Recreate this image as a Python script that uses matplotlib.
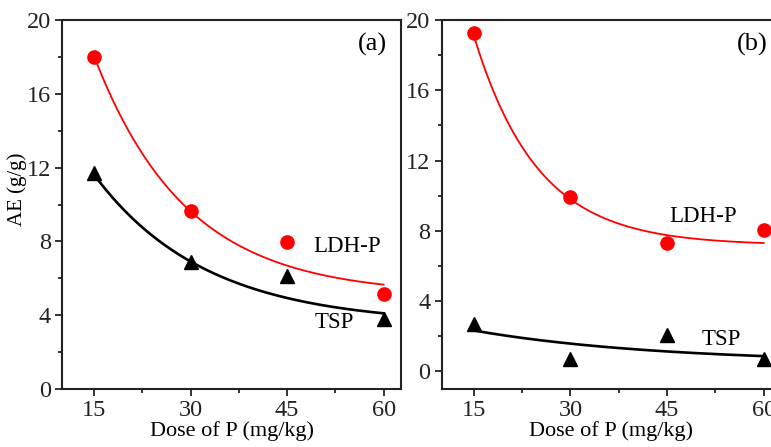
import numpy as np
import matplotlib
matplotlib.use("Agg")
import matplotlib.pyplot as plt
from matplotlib.ticker import MultipleLocator

plt.rcParams["font.family"] = ["Liberation Serif", "DejaVu Serif"]

# data
dose = [15, 30, 45, 60]
ldh_a = [18.0, 9.65, 7.97, 5.15]
tsp_a = [11.7, 6.88, 6.14, 3.80]
ldh_b = [19.28, 9.95, 7.30, 8.06]
tsp_b = [2.71, 0.72, 2.05, 0.72]

# exponential decay fit lines y = y0 + A*exp(-x/t), parameters
fit_ldh_a = (5.1, 36.9, 14.3)
fit_tsp_a = (3.5, 19.3, 17.3)
fit_ldh_b = (7.18, 54.2, 9.9)
fit_tsp_b = (0.48, 3.1, 29.0)

W, H = 771, 447


def fit_line(params, x):
    y0, a, t = params
    return y0 + a * np.exp(-x / t)


def style_axes(ax, ylim):
    ax.set_xlim(10, 62.7)
    ax.set_ylim(*ylim)
    ax.xaxis.set_major_locator(MultipleLocator(15))
    ax.xaxis.set_minor_locator(MultipleLocator(7.5))
    ax.yaxis.set_major_locator(MultipleLocator(4))
    ax.yaxis.set_minor_locator(MultipleLocator(2))
    ax.tick_params(which="both", direction="out", top=False, right=False,
                   labelsize=17.5, width=1.3, colors="#222222", pad=3)
    ax.tick_params(which="major", length=5)
    ax.tick_params(which="minor", length=3)
    for s in ax.spines.values():
        s.set_linewidth(1.5)
        s.set_color("#222222")
    ax.set_xlabel("Dose of P (mg/kg)", fontsize=16, labelpad=0)


fig = plt.figure(figsize=(W / 100, H / 100), dpi=100)
bot = (H - 389) / H
top = (H - 20) / H
ax1 = fig.add_axes([62 / W, bot, (401 - 62) / W, top - bot])
ax2 = fig.add_axes([441.7 / W, bot, (781 - 441.7) / W, top - bot])

xs = np.linspace(15, 60, 200)

for ax, ldh, tsp, fl, ft, ylim in [
    (ax1, ldh_a, tsp_a, fit_ldh_a, fit_tsp_a, (0, 20)),
    (ax2, ldh_b, tsp_b, fit_ldh_b, fit_tsp_b, (-1, 20)),
]:
    ax.plot(xs, fit_line(fl, xs), color="red", lw=1.3, zorder=2)
    ax.plot(xs, fit_line(ft, xs), color="black", lw=1.9, zorder=2)
    ax.plot(dose, ldh, "o", color="red", ms=9.5, mec="red", zorder=3)
    ax.plot(dose, tsp, "^", color="black", ms=10, zorder=3)
    style_axes(ax, ylim)

ax1.set_ylabel("AE (g/g)", fontsize=15)
ax1.yaxis.set_label_coords(-0.103, 0.54)

ax1.text(58.3, 18.7, "(a)", fontsize=19, ha="center", va="center")
ax1.text(49, 7.7, "LDH-P", fontsize=16.5, ha="left", va="center")
ax1.text(49.3, 3.6, "TSP", fontsize=16.5, ha="left", va="center")

ax2.text(58.2, 18.6, "(b)", fontsize=19, ha="center", va="center")
ax2.text(45.4, 8.8, "LDH-P", fontsize=16.5, ha="left", va="center")
ax2.text(50.4, 1.8, "TSP", fontsize=16.5, ha="left", va="center")

fig.savefig("out.png", dpi=100)
